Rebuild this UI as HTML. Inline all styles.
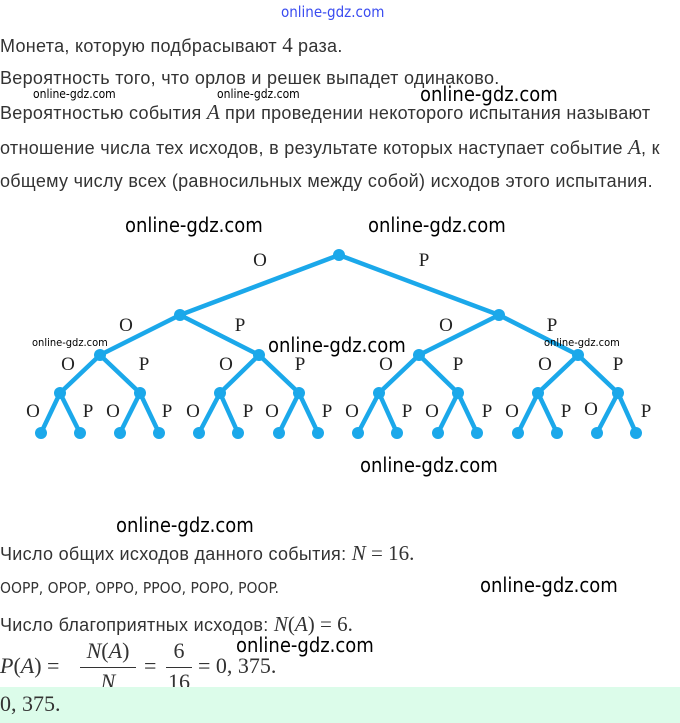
<!DOCTYPE html>
<html><head><meta charset="utf-8"><style>
body{margin:0;width:680px;height:723px;background:#fff;position:relative;overflow:hidden;font-family:"Liberation Sans",sans-serif;color:#333}
.t{position:absolute;left:0;font-size:18px;white-space:nowrap;letter-spacing:0.3px}
.m{font-family:"Liberation Serif",serif;font-size:21px;letter-spacing:0}
.mi{font-family:"Liberation Serif",serif;font-style:italic;font-size:21px;letter-spacing:0}
.w{position:absolute;color:#000;font-family:"DejaVu Sans Condensed","Liberation Sans",sans-serif;white-space:nowrap}
.wb{font-size:20px}
.ws{font-size:11px}
</style></head><body>
<div class="w" style="left:281px;top:3px;font-size:15px;color:#3a4cf0">online-gdz.com</div>
<div class="t" style="top:33px">Монета, которую подбрасывают <span class="m">4</span> раза.</div>
<div class="t" style="top:68px">Вероятность того, что орлов и решек выпадет одинаково.</div>
<div class="t" style="top:100px">Вероятностью события <span class="mi">A</span> при проведении некоторого испытания называют</div>
<div class="t" style="top:135px">отношение числа тех исходов, в результате которых наступает событие <span class="mi">A</span>, к</div>
<div class="t" style="top:171px">общему числу всех (равносильных между собой) исходов этого испытания.</div>
<div class="w ws" style="left:33px;top:87px;font-size:12px">online-gdz.com</div>
<div class="w ws" style="left:217px;top:87px;font-size:12px">online-gdz.com</div>
<div class="w wb" style="left:420px;top:82px">online-gdz.com</div>
<div class="w wb" style="left:125px;top:213px">online-gdz.com</div>
<div class="w wb" style="left:368px;top:213px">online-gdz.com</div>

<svg style="position:absolute;left:0;top:0" width="680" height="723">
<g stroke="#1ba8ea" stroke-width="4.5" stroke-linecap="round" fill="none">
<path d="M339 255L180 315M339 255L499 315"/>
<path d="M180 315L100 355M180 315L259 355M499 315L419 355M499 315L578 355"/>
<path d="M100 355L60 393M100 355L140 393M259 355L220 393M259 355L299 393M419 355L379 393M419 355L458 393M578 355L538 393M578 355L618 393"/>
<path d="M60 393L41 433M60 393L80 433M140 393L120 433M140 393L159 433M220 393L199 433M220 393L238 433M299 393L279 433M299 393L318 433M379 393L358 433M379 393L397 433M458 393L438 433M458 393L477 433M538 393L518 433M538 393L557 433M618 393L597 433M618 393L636 433"/>
</g>
<g fill="#1ba8ea">
<circle cx="339" cy="255" r="6"/><circle cx="180" cy="315" r="6"/><circle cx="499" cy="315" r="6"/>
<circle cx="100" cy="355" r="6"/><circle cx="259" cy="355" r="6"/><circle cx="419" cy="355" r="6"/><circle cx="578" cy="355" r="6"/>
<circle cx="60" cy="393" r="6"/><circle cx="140" cy="393" r="6"/><circle cx="220" cy="393" r="6"/><circle cx="299" cy="393" r="6"/><circle cx="379" cy="393" r="6"/><circle cx="458" cy="393" r="6"/><circle cx="538" cy="393" r="6"/><circle cx="618" cy="393" r="6"/>
<circle cx="41" cy="433" r="6"/><circle cx="80" cy="433" r="6"/><circle cx="120" cy="433" r="6"/><circle cx="159" cy="433" r="6"/><circle cx="199" cy="433" r="6"/><circle cx="238" cy="433" r="6"/><circle cx="279" cy="433" r="6"/><circle cx="318" cy="433" r="6"/><circle cx="358" cy="433" r="6"/><circle cx="397" cy="433" r="6"/><circle cx="438" cy="433" r="6"/><circle cx="477" cy="433" r="6"/><circle cx="518" cy="433" r="6"/><circle cx="557" cy="433" r="6"/><circle cx="597" cy="433" r="6"/><circle cx="636" cy="433" r="6"/>
</g>
<g font-family="Liberation Serif,serif" font-size="19" fill="#222" text-anchor="middle">
<text x="260" y="266">O</text><text x="424" y="266">P</text>
<text x="126" y="331">O</text><text x="240" y="331">P</text><text x="446" y="331">O</text><text x="552" y="331">P</text>
<text x="68" y="370">O</text><text x="144" y="370">P</text><text x="226" y="370">O</text><text x="300" y="370">P</text><text x="386" y="370">O</text><text x="458" y="370">P</text><text x="545" y="370">O</text><text x="618" y="370">P</text>
<text x="33" y="417">O</text><text x="88" y="417">P</text><text x="113" y="417">O</text><text x="167" y="417">P</text><text x="193" y="417">O</text><text x="248" y="417">P</text><text x="272" y="417">O</text><text x="327" y="417">P</text><text x="352" y="417">O</text><text x="407" y="417">P</text><text x="432" y="417">O</text><text x="487" y="417">P</text><text x="512" y="417">O</text><text x="566" y="417">P</text><text x="591" y="415">O</text><text x="646" y="417">P</text>
</g>
</svg>
<div class="w ws" style="left:32px;top:336px">online-gdz.com</div>
<div class="w wb" style="left:268px;top:333px">online-gdz.com</div>
<div class="w ws" style="left:544px;top:336px">online-gdz.com</div>
<div class="w wb" style="left:360px;top:453px">online-gdz.com</div>
<div class="w wb" style="left:116px;top:513px">online-gdz.com</div>

<div class="t" style="top:541px">Число общих исходов данного события: <span class="mi">N</span> <span class="m">= 16.</span></div>
<div class="t" style="top:579px;font-family:'DejaVu Sans Condensed','Liberation Sans',sans-serif;font-size:15.5px;letter-spacing:0">OOPP, OPOP, OPPO, PPOO, POPO, POOP.</div>
<div class="w wb" style="left:480px;top:573px">online-gdz.com</div>
<div class="t" style="top:612px">Число благоприятных исходов: <span class="mi">N</span><span class="m">(</span><span class="mi">A</span><span class="m">) = 6.</span></div>
<div class="w wb" style="left:236px;top:633px">online-gdz.com</div>
<div style="position:absolute;left:0;top:638px;font-family:'Liberation Serif',serif;font-size:22px;color:#333;white-space:nowrap">
<span style="position:absolute;left:0;top:15px"><i>P</i>(<i>A</i>) =</span>
<span style="position:absolute;left:80px;top:0;width:56px;text-align:center"><i>N</i>(<i>A</i>)</span>
<span style="position:absolute;left:80px;top:29px;width:56px;border-top:1px solid #333"></span>
<span style="position:absolute;left:80px;top:31px;width:56px;text-align:center"><i>N</i></span>
<span style="position:absolute;left:144px;top:15px">=</span>
<span style="position:absolute;left:166px;top:0;width:26px;text-align:center">6</span>
<span style="position:absolute;left:166px;top:29px;width:26px;border-top:1px solid #333"></span>
<span style="position:absolute;left:166px;top:31px;width:26px;text-align:center">16</span>
<span style="position:absolute;left:198px;top:15px">= 0, 375.</span>
</div>
<div style="position:absolute;left:0;top:687px;width:680px;height:36px;background:#dcfcea"></div>
<div style="position:absolute;left:0;top:691px;font-family:'Liberation Serif',serif;font-size:22px;color:#333">0, 375.</div>
</body></html>
